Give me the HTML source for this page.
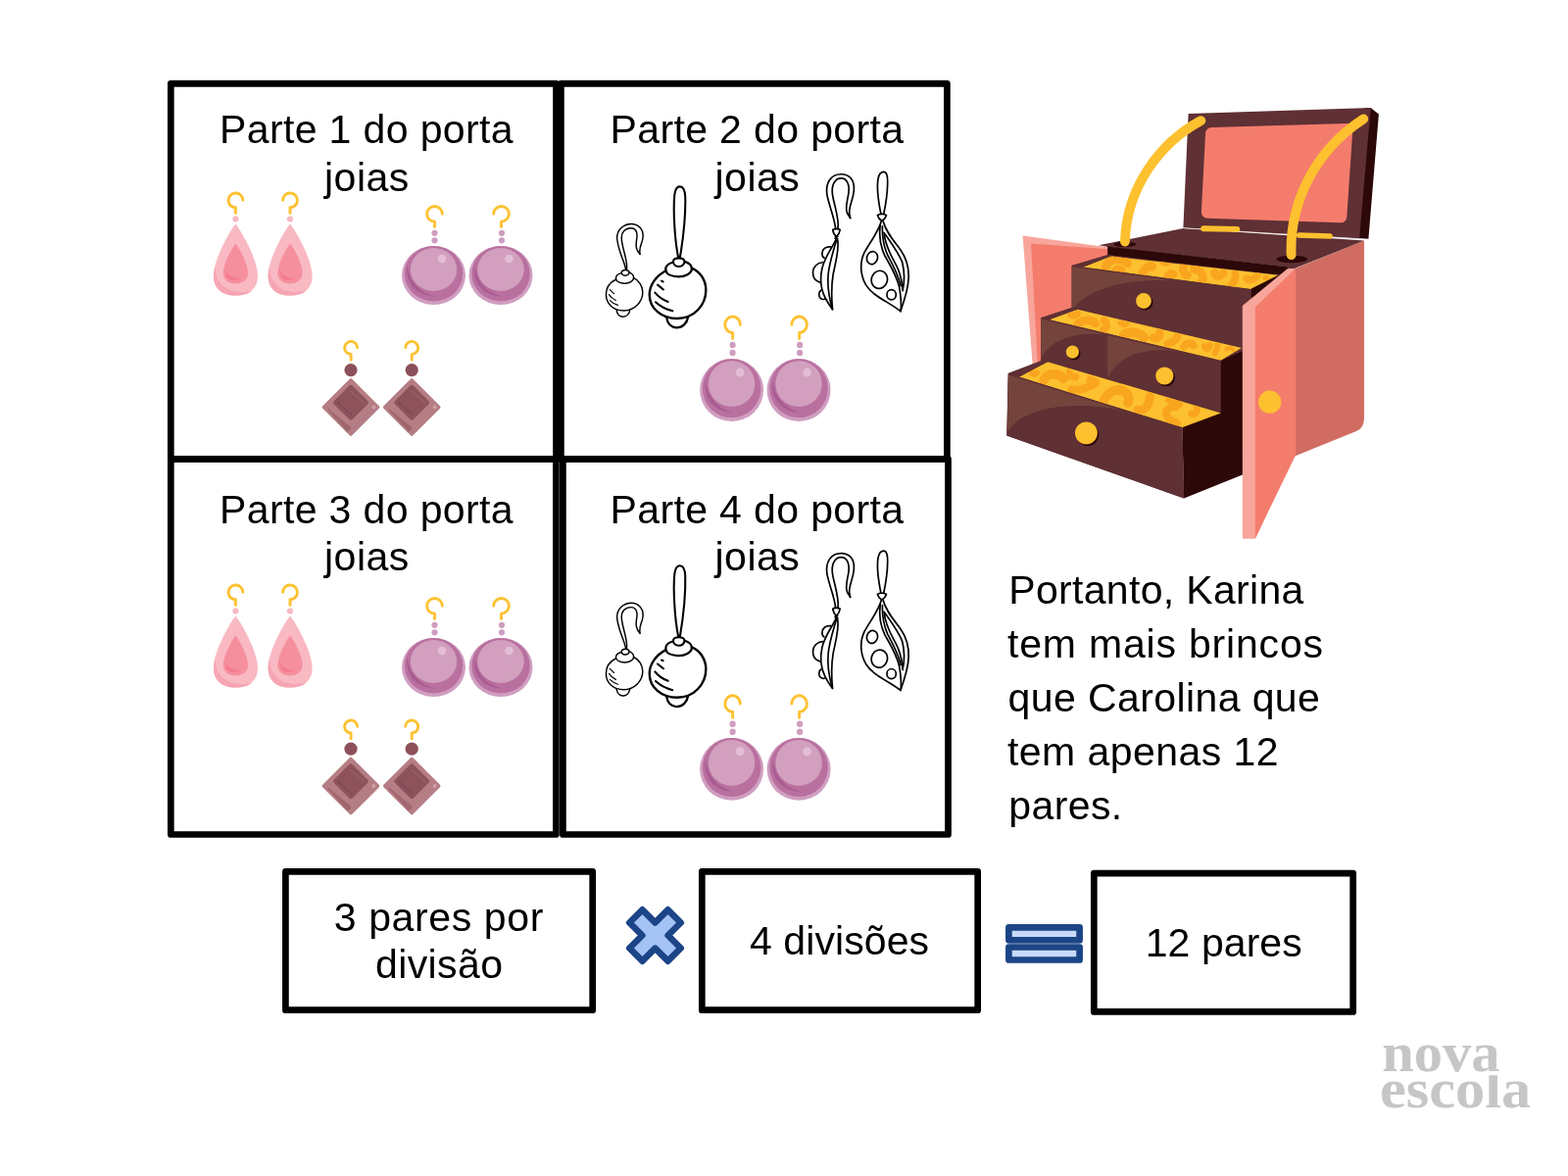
<!DOCTYPE html>
<html lang="pt-BR">
<head>
<meta charset="utf-8">
<title>Porta joias - 3 pares por divisão × 4 divisões = 12 pares</title>
<style>
html,body{margin:0;padding:0;background:#ffffff;}
body{width:1600px;height:1200px;overflow:hidden;position:relative;}
svg{display:block;position:absolute;left:0;top:0;will-change:transform;}
text{font-family:"Liberation Sans",sans-serif;fill:#000;}
text.logo{font-family:"Liberation Serif",serif;font-weight:bold;fill:#c6c6c6;}
</style>
</head>
<body>
<svg width="1600" height="1200" viewBox="0 0 1600 1200">

<!-- boxes and operators -->
<g fill="none" stroke="#000" stroke-width="6.7" stroke-linejoin="round">
<rect x="174.3" y="85.3" width="393.2" height="383"/>
<rect x="572.4" y="85.3" width="394" height="383"/>
<rect x="174.3" y="468.3" width="393.1" height="383.2"/>
<rect x="574.4" y="468.3" width="393.1" height="383.2"/>
<rect x="291.4" y="889.3" width="313.3" height="141.4"/>
<rect x="716.3" y="889.3" width="281.4" height="141.4"/>
<rect x="1116.3" y="891.2" width="264.4" height="141.2"/>
</g>
<path d="M642.3 941.5L655.5 928.3L668.5 941.3L681.5 928.3L694.7 941.5L681.7 954.5L694.7 967.5L681.5 980.7L668.5 967.7L655.5 980.7L642.3 967.5L655.3 954.5Z" fill="#a4c2f4" stroke="#1c4587" stroke-width="6.7" stroke-linejoin="round"/>
<g fill="#c9daf8" stroke="#1c4587" stroke-width="6.7" stroke-linejoin="round">
<rect x="1029.4" y="946.4" width="72.2" height="12.9"/>
<rect x="1029.4" y="966.5" width="72.2" height="13"/>
</g>

<!-- box 1 earrings -->
<g><g>
<path d="M247.8 204.2A7.4 7.4 0 1 0 240.4 211.8L240.4 217.5" fill="none" stroke="#fdc232" stroke-width="2.9" stroke-linecap="round" stroke-linejoin="round"/>
<circle cx="240.4" cy="223.5" r="3.1" fill="#f9b9c2"/>
<path d="M240.4 228.4C243.5 231.5 263 263 263 282C263 295 253 301.6 240.4 301.6C227.8 301.6 217.8 295 217.8 282C217.8 263 237.3 231.5 240.4 228.4Z" fill="#f9b9c2"/>
<path d="M219.3 272C216 286 219 301.6 240.4 301.6C248 301.6 254 299.5 257.5 296.5C240 301 221 296 219.3 272Z" fill="#f6a6b3"/>
<path d="M240.4 248.4C242.5 250.5 253 268 253 279C253 286 247 289.3 240.4 289.3C233.8 289.3 227.8 286 227.8 279C227.8 268 238.3 250.5 240.4 248.4Z" fill="#f58f9d"/>
<path d="M230.2 276.6C229.6 285.6 236 287.8 246 284.4C239 284 233 281.5 230.2 276.6Z" fill="#f57b90"/>
</g>
<g>
<path d="M288.6 204.2A7.4 7.4 0 1 1 296 211.8L296 217.5" fill="none" stroke="#fdc232" stroke-width="2.9" stroke-linecap="round" stroke-linejoin="round"/>
<circle cx="296" cy="223.5" r="3.1" fill="#f9b9c2"/>
<path d="M296 228.4C299.1 231.5 318.6 263 318.6 282C318.6 295 308.6 301.6 296 301.6C283.4 301.6 273.4 295 273.4 282C273.4 263 292.9 231.5 296 228.4Z" fill="#f9b9c2"/>
<path d="M274.9 272C271.6 286 274.6 301.6 296 301.6C303.6 301.6 309.6 299.5 313.1 296.5C295.6 301 276.6 296 274.9 272Z" fill="#f6a6b3"/>
<path d="M296 248.4C298.1 250.5 308.6 268 308.6 279C308.6 286 302.6 289.3 296 289.3C289.4 289.3 283.4 286 283.4 279C283.4 268 293.9 250.5 296 248.4Z" fill="#f58f9d"/>
<path d="M285.8 276.6C285.2 285.6 291.6 287.8 301.6 284.4C294.6 284 288.6 281.5 285.8 276.6Z" fill="#f57b90"/>
</g>
<g>
<path d="M451.3 218.2A7.8 7.8 0 1 0 443.5 226.1L443.5 231.5" fill="none" stroke="#fdc232" stroke-width="2.9" stroke-linecap="round" stroke-linejoin="round"/>
<circle cx="443.5" cy="237.8" r="3.1" fill="#cf9dc0"/>
<circle cx="443.5" cy="245.3" r="3.1" fill="#cf9dc0"/>
<ellipse cx="442.5" cy="281" rx="32.5" ry="30" fill="#d09ec1"/>
<ellipse cx="442.5" cy="279.3" rx="29.8" ry="28.2" fill="#b9709f"/>
<path d="M415.5 272C414 290 425 302 444 302.5C430 299 419 290 415.5 272Z" fill="#a85c92"/>
<ellipse cx="442.5" cy="275" rx="23.7" ry="22" fill="#d2a0be"/>
<circle cx="451" cy="264" r="4.3" fill="#e3bdd6"/>
</g>
<g>
<path d="M503.7 218.2A7.8 7.8 0 1 1 511.5 226.1L511.5 231.5" fill="none" stroke="#fdc232" stroke-width="2.9" stroke-linecap="round" stroke-linejoin="round"/>
<circle cx="512" cy="237.8" r="3.1" fill="#cf9dc0"/>
<circle cx="512" cy="245.3" r="3.1" fill="#cf9dc0"/>
<ellipse cx="511" cy="281" rx="32.5" ry="30" fill="#d09ec1"/>
<ellipse cx="511" cy="279.3" rx="29.8" ry="28.2" fill="#b9709f"/>
<path d="M484 272C482.500 290 493.500 302 512.500 302.5C498.500 299 487.500 290 484 272Z" fill="#a85c92"/>
<ellipse cx="511" cy="275" rx="23.7" ry="22" fill="#d2a0be"/>
<circle cx="519.5" cy="264" r="4.3" fill="#e3bdd6"/>
</g>
<g>
<path d="M364.6 354.6A6.5 6.5 0 1 0 358.1 361.4L358.1 367.3" fill="none" stroke="#fdc232" stroke-width="2.9" stroke-linecap="round" stroke-linejoin="round"/>
<circle cx="358" cy="377.6" r="6.6" fill="#8c505a"/>
<path d="M358 388L385.500 415.500L358 443L330.500 415.500Z" fill="#b57d84" stroke="#b57d84" stroke-width="3.600" stroke-linejoin="round"/>
<path d="M335 418L357.5 436.500L357 438.500L354.500 439.600Z" fill="#a0676f" stroke="#a0676f" stroke-width="1.5" stroke-linejoin="round"/>
<path d="M358 395L373.700 410.700L358 426.400L342.300 410.700Z" fill="#8e525b" stroke="#8e525b" stroke-width="4.400" stroke-linejoin="round"/>
<path d="M356.7 398.5L372.3 411.5" stroke="#9c626b" stroke-width="1.2" fill="none"/><path d="M344 410.4L359 423.4" stroke="#80475a" stroke-width="1.2" fill="none"/><circle cx="381.400" cy="415.500" r="2" fill="#cfa0a7"/>
</g>
<g>
<path d="M413.7 354.6A6.5 6.5 0 1 1 420.2 361.4L420.2 367.3" fill="none" stroke="#fdc232" stroke-width="2.9" stroke-linecap="round" stroke-linejoin="round"/>
<circle cx="420.200" cy="377.6" r="6.6" fill="#8c505a"/>
<path d="M420.200 388L447.700 415.500L420.200 443L392.700 415.500Z" fill="#b57d84" stroke="#b57d84" stroke-width="3.600" stroke-linejoin="round"/>
<path d="M397.200 418L419.700 436.500L419.200 438.500L416.700 439.600Z" fill="#a0676f" stroke="#a0676f" stroke-width="1.5" stroke-linejoin="round"/>
<path d="M420.200 395L435.900 410.700L420.200 426.400L404.500 410.700Z" fill="#8e525b" stroke="#8e525b" stroke-width="4.400" stroke-linejoin="round"/>
<path d="M418.9 398.5L434.5 411.5" stroke="#9c626b" stroke-width="1.2" fill="none"/><path d="M406.2 410.4L421.2 423.4" stroke="#80475a" stroke-width="1.2" fill="none"/><circle cx="443.600" cy="415.500" r="2" fill="#cfa0a7"/>
</g>
</g>
<!-- box 3 earrings -->
<g transform="translate(0 400)"><g>
<path d="M247.8 204.2A7.4 7.4 0 1 0 240.4 211.8L240.4 217.5" fill="none" stroke="#fdc232" stroke-width="2.9" stroke-linecap="round" stroke-linejoin="round"/>
<circle cx="240.4" cy="223.5" r="3.1" fill="#f9b9c2"/>
<path d="M240.4 228.4C243.5 231.5 263 263 263 282C263 295 253 301.6 240.4 301.6C227.8 301.6 217.8 295 217.8 282C217.8 263 237.3 231.5 240.4 228.4Z" fill="#f9b9c2"/>
<path d="M219.3 272C216 286 219 301.6 240.4 301.6C248 301.6 254 299.5 257.5 296.5C240 301 221 296 219.3 272Z" fill="#f6a6b3"/>
<path d="M240.4 248.4C242.5 250.5 253 268 253 279C253 286 247 289.3 240.4 289.3C233.8 289.3 227.8 286 227.8 279C227.8 268 238.3 250.5 240.4 248.4Z" fill="#f58f9d"/>
<path d="M230.2 276.6C229.6 285.6 236 287.8 246 284.4C239 284 233 281.5 230.2 276.6Z" fill="#f57b90"/>
</g>
<g>
<path d="M288.6 204.2A7.4 7.4 0 1 1 296 211.8L296 217.5" fill="none" stroke="#fdc232" stroke-width="2.9" stroke-linecap="round" stroke-linejoin="round"/>
<circle cx="296" cy="223.5" r="3.1" fill="#f9b9c2"/>
<path d="M296 228.4C299.1 231.5 318.6 263 318.6 282C318.6 295 308.6 301.6 296 301.6C283.4 301.6 273.4 295 273.4 282C273.4 263 292.9 231.5 296 228.4Z" fill="#f9b9c2"/>
<path d="M274.9 272C271.6 286 274.6 301.6 296 301.6C303.6 301.6 309.6 299.5 313.1 296.5C295.6 301 276.6 296 274.9 272Z" fill="#f6a6b3"/>
<path d="M296 248.4C298.1 250.5 308.6 268 308.6 279C308.6 286 302.6 289.3 296 289.3C289.4 289.3 283.4 286 283.4 279C283.4 268 293.9 250.5 296 248.4Z" fill="#f58f9d"/>
<path d="M285.8 276.6C285.2 285.6 291.6 287.8 301.6 284.4C294.6 284 288.6 281.5 285.8 276.6Z" fill="#f57b90"/>
</g>
<g>
<path d="M451.3 218.2A7.8 7.8 0 1 0 443.5 226.1L443.5 231.5" fill="none" stroke="#fdc232" stroke-width="2.9" stroke-linecap="round" stroke-linejoin="round"/>
<circle cx="443.5" cy="237.8" r="3.1" fill="#cf9dc0"/>
<circle cx="443.5" cy="245.3" r="3.1" fill="#cf9dc0"/>
<ellipse cx="442.5" cy="281" rx="32.5" ry="30" fill="#d09ec1"/>
<ellipse cx="442.5" cy="279.3" rx="29.8" ry="28.2" fill="#b9709f"/>
<path d="M415.5 272C414 290 425 302 444 302.5C430 299 419 290 415.5 272Z" fill="#a85c92"/>
<ellipse cx="442.5" cy="275" rx="23.7" ry="22" fill="#d2a0be"/>
<circle cx="451" cy="264" r="4.3" fill="#e3bdd6"/>
</g>
<g>
<path d="M503.7 218.2A7.8 7.8 0 1 1 511.5 226.1L511.5 231.5" fill="none" stroke="#fdc232" stroke-width="2.9" stroke-linecap="round" stroke-linejoin="round"/>
<circle cx="512" cy="237.8" r="3.1" fill="#cf9dc0"/>
<circle cx="512" cy="245.3" r="3.1" fill="#cf9dc0"/>
<ellipse cx="511" cy="281" rx="32.5" ry="30" fill="#d09ec1"/>
<ellipse cx="511" cy="279.3" rx="29.8" ry="28.2" fill="#b9709f"/>
<path d="M484 272C482.500 290 493.500 302 512.500 302.5C498.500 299 487.500 290 484 272Z" fill="#a85c92"/>
<ellipse cx="511" cy="275" rx="23.7" ry="22" fill="#d2a0be"/>
<circle cx="519.5" cy="264" r="4.3" fill="#e3bdd6"/>
</g>
</g>
<g transform="translate(0 386.6)"><g>
<path d="M364.6 354.6A6.5 6.5 0 1 0 358.1 361.4L358.1 367.3" fill="none" stroke="#fdc232" stroke-width="2.9" stroke-linecap="round" stroke-linejoin="round"/>
<circle cx="358" cy="377.6" r="6.6" fill="#8c505a"/>
<path d="M358 388L385.500 415.500L358 443L330.500 415.500Z" fill="#b57d84" stroke="#b57d84" stroke-width="3.600" stroke-linejoin="round"/>
<path d="M335 418L357.5 436.500L357 438.500L354.500 439.600Z" fill="#a0676f" stroke="#a0676f" stroke-width="1.5" stroke-linejoin="round"/>
<path d="M358 395L373.700 410.700L358 426.400L342.300 410.700Z" fill="#8e525b" stroke="#8e525b" stroke-width="4.400" stroke-linejoin="round"/>
<path d="M356.7 398.5L372.3 411.5" stroke="#9c626b" stroke-width="1.2" fill="none"/><path d="M344 410.4L359 423.4" stroke="#80475a" stroke-width="1.2" fill="none"/><circle cx="381.400" cy="415.500" r="2" fill="#cfa0a7"/>
</g>
<g>
<path d="M413.7 354.6A6.5 6.5 0 1 1 420.2 361.4L420.2 367.3" fill="none" stroke="#fdc232" stroke-width="2.9" stroke-linecap="round" stroke-linejoin="round"/>
<circle cx="420.200" cy="377.6" r="6.6" fill="#8c505a"/>
<path d="M420.200 388L447.700 415.500L420.200 443L392.700 415.500Z" fill="#b57d84" stroke="#b57d84" stroke-width="3.600" stroke-linejoin="round"/>
<path d="M397.200 418L419.700 436.500L419.200 438.500L416.700 439.600Z" fill="#a0676f" stroke="#a0676f" stroke-width="1.5" stroke-linejoin="round"/>
<path d="M420.200 395L435.900 410.700L420.200 426.400L404.500 410.700Z" fill="#8e525b" stroke="#8e525b" stroke-width="4.400" stroke-linejoin="round"/>
<path d="M418.9 398.5L434.5 411.5" stroke="#9c626b" stroke-width="1.2" fill="none"/><path d="M406.2 410.4L421.2 423.4" stroke="#80475a" stroke-width="1.2" fill="none"/><circle cx="443.600" cy="415.500" r="2" fill="#cfa0a7"/>
</g>
</g>
<!-- box 2 earrings -->
<g><g transform="translate(610 220) scale(0.0916)" fill="none" stroke="#000" stroke-width="16" stroke-linecap="round" stroke-linejoin="round">
<path d="M312 598C300 520 230 400 215 265C205 160 290 92 370 92C450 92 510 150 503 240C498 310 455 340 470 430"/>
<path d="M322 598C335 500 275 380 265 260C258 180 310 140 370 140C420 140 445 180 435 250C428 310 410 360 468 430"/>
<path d="M265 628C275 598 340 598 350 628C352 655 330 668 305 668C280 668 262 655 265 628Z"/>
<path d="M262 640C225 650 200 670 202 700C205 735 250 755 300 755C350 755 398 730 400 692C400 665 380 645 350 632"/>
<path d="M200 712C130 745 92 810 92 880C92 980 170 1058 290 1058C410 1058 500 960 500 855C500 790 460 720 400 695"/>
<path d="M210 1055C215 1100 245 1127 280 1127C320 1127 350 1095 356 1055"/>
<path stroke-width="13" d="M135 825L180 870"/>
<path stroke-width="13" d="M125 880C145 910 170 930 200 945"/>
<path stroke-width="13" d="M135 945C160 970 190 990 225 998"/>
</g>
<g transform="translate(655 180) scale(0.13333)" fill="none" stroke="#000" stroke-width="15.5" stroke-linecap="round" stroke-linejoin="round">
<path d="M278 618C250 480 238 250 250 140C256 95 275 78 290 78C310 78 330 100 332 160C335 280 315 480 292 618"/>
<path d="M240 648C245 618 320 618 326 648C328 675 305 690 282 690C258 690 238 675 240 648Z"/>
<path stroke-width="17" d="M236 658C200 668 180 690 182 715C186 750 230 767 280 767C330 767 378 745 382 708C382 685 360 662 328 652"/>
<path stroke-width="18" d="M184 722C110 760 58 830 58 905C58 1010 150 1087 270 1087C400 1087 490 985 490 870C490 800 450 730 382 702"/>
<path stroke-width="17" d="M190 1085C195 1125 225 1157 265 1157C310 1157 345 1125 352 1080"/>
<path d="M150 800L162 806"/>
<path d="M120 830L165 866"/>
<path d="M100 890C125 920 160 945 200 960"/>
<path d="M105 962C140 995 185 1018 235 1030"/>
</g>
<g transform="translate(822 170) scale(0.125)" fill="none" stroke="#000" stroke-width="13.5" stroke-linecap="round" stroke-linejoin="round">
<path d="M245 510C240 430 195 330 175 230C160 130 210 62 290 62C360 62 400 110 395 190C390 270 350 330 358 385L365 420"/>
<path d="M265 510C275 420 235 320 220 230C208 150 240 95 290 95C335 95 360 140 352 210C345 270 320 330 340 380L365 420"/>
<path d="M222 515C240 505 265 505 282 515C278 540 265 560 252 572C238 560 225 540 222 515Z"/>
<path d="M240 585L262 572M243 572L262 590"/>
<path d="M250 590C220 660 160 730 135 830C115 920 130 1010 160 1070C180 1110 205 1145 220 1165"/>
<path d="M262 600C275 680 245 780 225 880C212 960 212 1080 220 1165"/>
<path d="M252 600C230 680 195 780 185 880C178 960 190 1060 215 1150"/>
<path d="M205 655C165 650 135 675 135 710C135 730 142 740 152 745"/>
<path d="M140 782C95 785 60 820 60 865C60 905 85 935 118 945"/>
<path d="M125 1010C105 1025 105 1060 122 1075C135 1085 148 1085 155 1082"/>
</g>
<g transform="translate(872 170) scale(0.12673)" fill="none" stroke="#000" stroke-width="13.5" stroke-linecap="round" stroke-linejoin="round">
<path d="M212 380C190 270 180 150 190 95C198 55 220 42 235 42C255 42 268 70 266 130C265 210 252 300 235 380"/>
<path d="M185 392C200 378 240 378 256 392C250 412 235 428 220 437C205 428 190 412 185 392Z"/>
<path d="M215 440C195 520 130 600 80 690C40 770 45 870 90 950C150 1050 280 1090 370 1165"/>
<path d="M230 440C255 530 310 590 370 670C420 740 438 830 435 900C432 990 400 1080 370 1165"/>
<path d="M207 470C195 560 205 640 245 720C290 800 340 880 360 970C372 1040 378 1110 372 1160"/>
<path d="M224 480C222 580 238 650 266 712C305 785 350 865 372 960"/>
<path d="M237 532C292 610 352 690 384 770C402 840 402 930 387 1000C384 930 372 880 350 825C315 745 250 665 237 532Z"/>
<ellipse cx="142" cy="735" rx="43" ry="52" transform="rotate(15 142 735)"/>
<ellipse cx="200" cy="910" rx="64" ry="72" transform="rotate(15 200 910)"/>
<ellipse cx="297" cy="1032" rx="37" ry="40"/>
</g>
<g transform="translate(714.10 321.40) scale(1 1.0647) translate(-410 -209)"><g>
<path d="M451.3 218.2A7.8 7.8 0 1 0 443.5 226.1L443.5 231.5" fill="none" stroke="#fdc232" stroke-width="2.9" stroke-linecap="round" stroke-linejoin="round"/>
<circle cx="443.5" cy="237.8" r="3.1" fill="#cf9dc0"/>
<circle cx="443.5" cy="245.3" r="3.1" fill="#cf9dc0"/>
<ellipse cx="442.5" cy="281" rx="32.5" ry="30" fill="#d09ec1"/>
<ellipse cx="442.5" cy="279.3" rx="29.8" ry="28.2" fill="#b9709f"/>
<path d="M415.5 272C414 290 425 302 444 302.5C430 299 419 290 415.5 272Z" fill="#a85c92"/>
<ellipse cx="442.5" cy="275" rx="23.7" ry="22" fill="#d2a0be"/>
<circle cx="451" cy="264" r="4.3" fill="#e3bdd6"/>
</g>
<g>
<path d="M503.7 218.2A7.8 7.8 0 1 1 511.5 226.1L511.5 231.5" fill="none" stroke="#fdc232" stroke-width="2.9" stroke-linecap="round" stroke-linejoin="round"/>
<circle cx="512" cy="237.8" r="3.1" fill="#cf9dc0"/>
<circle cx="512" cy="245.3" r="3.1" fill="#cf9dc0"/>
<ellipse cx="511" cy="281" rx="32.5" ry="30" fill="#d09ec1"/>
<ellipse cx="511" cy="279.3" rx="29.8" ry="28.2" fill="#b9709f"/>
<path d="M484 272C482.500 290 493.500 302 512.500 302.5C498.500 299 487.500 290 484 272Z" fill="#a85c92"/>
<ellipse cx="511" cy="275" rx="23.7" ry="22" fill="#d2a0be"/>
<circle cx="519.5" cy="264" r="4.3" fill="#e3bdd6"/>
</g>
</g></g>
<!-- box 4 earrings -->
<g transform="translate(0 386.8)"><g transform="translate(610 220) scale(0.0916)" fill="none" stroke="#000" stroke-width="16" stroke-linecap="round" stroke-linejoin="round">
<path d="M312 598C300 520 230 400 215 265C205 160 290 92 370 92C450 92 510 150 503 240C498 310 455 340 470 430"/>
<path d="M322 598C335 500 275 380 265 260C258 180 310 140 370 140C420 140 445 180 435 250C428 310 410 360 468 430"/>
<path d="M265 628C275 598 340 598 350 628C352 655 330 668 305 668C280 668 262 655 265 628Z"/>
<path d="M262 640C225 650 200 670 202 700C205 735 250 755 300 755C350 755 398 730 400 692C400 665 380 645 350 632"/>
<path d="M200 712C130 745 92 810 92 880C92 980 170 1058 290 1058C410 1058 500 960 500 855C500 790 460 720 400 695"/>
<path d="M210 1055C215 1100 245 1127 280 1127C320 1127 350 1095 356 1055"/>
<path stroke-width="13" d="M135 825L180 870"/>
<path stroke-width="13" d="M125 880C145 910 170 930 200 945"/>
<path stroke-width="13" d="M135 945C160 970 190 990 225 998"/>
</g>
<g transform="translate(655 180) scale(0.13333)" fill="none" stroke="#000" stroke-width="15.5" stroke-linecap="round" stroke-linejoin="round">
<path d="M278 618C250 480 238 250 250 140C256 95 275 78 290 78C310 78 330 100 332 160C335 280 315 480 292 618"/>
<path d="M240 648C245 618 320 618 326 648C328 675 305 690 282 690C258 690 238 675 240 648Z"/>
<path stroke-width="17" d="M236 658C200 668 180 690 182 715C186 750 230 767 280 767C330 767 378 745 382 708C382 685 360 662 328 652"/>
<path stroke-width="18" d="M184 722C110 760 58 830 58 905C58 1010 150 1087 270 1087C400 1087 490 985 490 870C490 800 450 730 382 702"/>
<path stroke-width="17" d="M190 1085C195 1125 225 1157 265 1157C310 1157 345 1125 352 1080"/>
<path d="M150 800L162 806"/>
<path d="M120 830L165 866"/>
<path d="M100 890C125 920 160 945 200 960"/>
<path d="M105 962C140 995 185 1018 235 1030"/>
</g>
<g transform="translate(822 170) scale(0.125)" fill="none" stroke="#000" stroke-width="13.5" stroke-linecap="round" stroke-linejoin="round">
<path d="M245 510C240 430 195 330 175 230C160 130 210 62 290 62C360 62 400 110 395 190C390 270 350 330 358 385L365 420"/>
<path d="M265 510C275 420 235 320 220 230C208 150 240 95 290 95C335 95 360 140 352 210C345 270 320 330 340 380L365 420"/>
<path d="M222 515C240 505 265 505 282 515C278 540 265 560 252 572C238 560 225 540 222 515Z"/>
<path d="M240 585L262 572M243 572L262 590"/>
<path d="M250 590C220 660 160 730 135 830C115 920 130 1010 160 1070C180 1110 205 1145 220 1165"/>
<path d="M262 600C275 680 245 780 225 880C212 960 212 1080 220 1165"/>
<path d="M252 600C230 680 195 780 185 880C178 960 190 1060 215 1150"/>
<path d="M205 655C165 650 135 675 135 710C135 730 142 740 152 745"/>
<path d="M140 782C95 785 60 820 60 865C60 905 85 935 118 945"/>
<path d="M125 1010C105 1025 105 1060 122 1075C135 1085 148 1085 155 1082"/>
</g>
<g transform="translate(872 170) scale(0.12673)" fill="none" stroke="#000" stroke-width="13.5" stroke-linecap="round" stroke-linejoin="round">
<path d="M212 380C190 270 180 150 190 95C198 55 220 42 235 42C255 42 268 70 266 130C265 210 252 300 235 380"/>
<path d="M185 392C200 378 240 378 256 392C250 412 235 428 220 437C205 428 190 412 185 392Z"/>
<path d="M215 440C195 520 130 600 80 690C40 770 45 870 90 950C150 1050 280 1090 370 1165"/>
<path d="M230 440C255 530 310 590 370 670C420 740 438 830 435 900C432 990 400 1080 370 1165"/>
<path d="M207 470C195 560 205 640 245 720C290 800 340 880 360 970C372 1040 378 1110 372 1160"/>
<path d="M224 480C222 580 238 650 266 712C305 785 350 865 372 960"/>
<path d="M237 532C292 610 352 690 384 770C402 840 402 930 387 1000C384 930 372 880 350 825C315 745 250 665 237 532Z"/>
<ellipse cx="142" cy="735" rx="43" ry="52" transform="rotate(15 142 735)"/>
<ellipse cx="200" cy="910" rx="64" ry="72" transform="rotate(15 200 910)"/>
<ellipse cx="297" cy="1032" rx="37" ry="40"/>
</g>
<g transform="translate(714.10 321.40) scale(1 1.0647) translate(-410 -209)"><g>
<path d="M451.3 218.2A7.8 7.8 0 1 0 443.5 226.1L443.5 231.5" fill="none" stroke="#fdc232" stroke-width="2.9" stroke-linecap="round" stroke-linejoin="round"/>
<circle cx="443.5" cy="237.8" r="3.1" fill="#cf9dc0"/>
<circle cx="443.5" cy="245.3" r="3.1" fill="#cf9dc0"/>
<ellipse cx="442.5" cy="281" rx="32.5" ry="30" fill="#d09ec1"/>
<ellipse cx="442.5" cy="279.3" rx="29.8" ry="28.2" fill="#b9709f"/>
<path d="M415.5 272C414 290 425 302 444 302.5C430 299 419 290 415.5 272Z" fill="#a85c92"/>
<ellipse cx="442.5" cy="275" rx="23.7" ry="22" fill="#d2a0be"/>
<circle cx="451" cy="264" r="4.3" fill="#e3bdd6"/>
</g>
<g>
<path d="M503.7 218.2A7.8 7.8 0 1 1 511.5 226.1L511.5 231.5" fill="none" stroke="#fdc232" stroke-width="2.9" stroke-linecap="round" stroke-linejoin="round"/>
<circle cx="512" cy="237.8" r="3.1" fill="#cf9dc0"/>
<circle cx="512" cy="245.3" r="3.1" fill="#cf9dc0"/>
<ellipse cx="511" cy="281" rx="32.5" ry="30" fill="#d09ec1"/>
<ellipse cx="511" cy="279.3" rx="29.8" ry="28.2" fill="#b9709f"/>
<path d="M484 272C482.500 290 493.500 302 512.500 302.5C498.500 299 487.500 290 484 272Z" fill="#a85c92"/>
<ellipse cx="511" cy="275" rx="23.7" ry="22" fill="#d2a0be"/>
<circle cx="519.5" cy="264" r="4.3" fill="#e3bdd6"/>
</g>
</g></g>
<!-- jewelry box -->
<g>
<path d="M 1043.6 240.5 L 1132.0 252.6 L 1132.0 321.0 L 1072.5 377.0 L 1054.0 377.0Z" fill="#f8a69b"/>
<path d="M 1052.0 248.4 L 1132.0 254.2 L 1132.0 321.0 L 1072.5 377.0 L 1059.2 377.0Z" fill="#f47c6d"/>
<path d="M 1392.0 110.2 L 1398.7 110.0 L 1406.9 116.6 L 1396.4 243.8 L 1381.5 242.8Z" fill="#2c0808"/>
<path d="M 1212.6 116.1 L 1398.7 110.0 L 1387.1 243.5 L 1207.4 232.5Z" fill="#5f3034"/>
<path d="M 1236.2 136.1 L 1374.2 132.2 L 1368.2 221.1 L 1232.0 216.6Z" fill="#f47c6d" stroke="#f47c6d" stroke-width="12.25" stroke-linejoin="round"/>
<path d="M1318 275.4L1392 245.6L1392 426Q1392 437.2 1384 440L1318 466.7Z" fill="#d16c62"/>
<path d="M 1207.4 233.0 L 1392.0 245.6 L 1322.0 273.6 L 1130.7 252.1 L 1121.1 250.3Z" fill="#5f3034"/>
<path d="M 1130.2 251.5 L 1322.0 273.2 L 1305.4 285.5 L 1130.2 265.9Z" fill="#2c0808"/>
<path d="M 1207.4 232.7 L 1387.1 243.7" fill="none" stroke="#f1e4e2" stroke-width="0.70"/>
<ellipse cx="1147.9" cy="249.3" rx="11.5" ry="2.6" fill="#2c0808"/>
<ellipse cx="1318.2" cy="264.5" rx="15.7" ry="3.8" fill="#2c0808"/>
<path d="M 1093.7 271.0 L 1130.6 260.0 L 1307.0 280.8 L 1307.0 370.0 L 1093.7 321.0Z" fill="#5f3034"/>
<path d="M 1103.3 272.4 L 1130.2 261.1 L 1307.0 281.1 L 1277.2 295.1Z" fill="#fdc02f"/>
<clipPath id="yc1"><path d="M 1103.3 272.4 L 1130.2 261.1 L 1307.0 281.1 L 1277.2 295.1Z"/></clipPath>
<g clip-path="url(#yc1)" fill="none" stroke="#f9a51f" stroke-width="5.78" stroke-linecap="round" stroke-linejoin="round">
<path d="M 1128.2 272.7 C 1130.2 264.2 1143.3 261.6 1150.5 268.8" stroke-width="8.75"/>
<path d="M 1137.4 276.0 C 1139.4 272.7 1143.3 273.4 1145.3 276.0" stroke-width="6.79"/>
<path d="M 1166.3 278.0 C 1168.2 274.0 1172.2 270.8 1175.5 272.1" stroke-width="9.06"/>
<path d="M 1186.6 268.1 L 1190.8 268.9" stroke-width="6.04"/>
<path d="M 1191.9 281.0 C 1193.5 278.6 1195.8 278.0 1197.8 279.9" stroke-width="7.55"/>
<path d="M 1207.9 271.4 C 1206.0 277.3 1208.9 281.9 1211.8 280.6" stroke-width="8.30"/>
<path d="M 1218.1 274.7 C 1226.0 276.0 1229.3 281.2 1226.3 287.2" stroke-width="8.30"/>
<path d="M 1239.1 278.4 C 1240.4 282.8 1244.4 282.8 1248.3 278.6" stroke-width="8.30"/>
<path d="M 1260.4 279.7 C 1261.7 283.9 1259.1 287.8 1256.5 290.7" stroke-width="7.55"/>
<path d="M 1272.2 284.1 C 1274.6 287.0 1279.8 285.4 1282.7 281.2" stroke-width="7.55"/>
<path d="M 1291.0 283.2 L 1292.9 284.1" stroke-width="5.28"/>
</g>
<path d="M 1093.7 271.0 L 1130.6 260.0 L 1135.0 261.0 L 1104.5 272.9Z" fill="#5f3034"/>
<path d="M 1093.7 271.0 L 1277.2 295.6 L 1277.2 370.0 L 1093.7 321.0Z" fill="#5f3034"/>
<path d="M 1093.7 272.2 L 1205.5 287.2 C 1160.0 282.5 1111.0 291.2 1093.7 316.6Z" fill="#74443c"/>
<circle cx="1168.5" cy="308.7" r="7.9" fill="#2c0808"/>
<circle cx="1167.0" cy="307.0" r="7.9" fill="#fdc02f"/>
<path d="M 1276.9 294.4 L 1307.9 278.9 L 1307.9 332.7 L 1276.9 332.7Z" fill="#2c0808"/>
<path d="M 1062.3 324.3 L 1094.4 313.8 L 1266.8 354.8 L 1266.8 448.8 L 1062.3 387.5Z" fill="#5f3034"/>
<path d="M 1069.7 325.9 L 1099.6 315.8 L 1266.8 355.1 L 1245.8 367.7Z" fill="#fdc02f"/>
<clipPath id="yc2"><path d="M 1069.7 325.9 L 1099.6 315.8 L 1266.8 355.1 L 1245.8 367.7Z"/></clipPath>
<g clip-path="url(#yc2)" fill="none" stroke="#f9a51f" stroke-width="5.78" stroke-linecap="round" stroke-linejoin="round">
<path d="M 1092.6 321.2 C 1095.2 323.4 1097.8 322.6 1099.4 319.8" stroke-width="6.79"/>
<path d="M 1099.4 331.3 C 1103.1 325.8 1113.6 325.8 1117.8 329.9" stroke-width="8.75"/>
<path d="M 1126.7 327.1 C 1130.9 331.0 1129.6 334.9 1125.6 336.5" stroke-width="7.55"/>
<path d="M 1143.8 329.7 C 1145.1 331.8 1147.7 331.8 1149.3 330.3" stroke-width="6.04"/>
<path d="M 1146.6 341.8 C 1151.6 337.6 1162.1 338.9 1167.6 344.4" stroke-width="9.36"/>
<path d="M 1176.6 344.4 C 1180.5 347.0 1184.7 344.4 1183.4 339.1" stroke-width="7.85"/>
<path d="M 1191.3 350.9 C 1196.2 349.6 1201.5 347.0 1201.8 341.8" stroke-width="7.55"/>
<path d="M 1208.1 353.6 C 1210.7 349.4 1215.9 349.4 1217.5 352.3" stroke-width="7.85"/>
<path d="M 1229.1 353.3 C 1230.4 357.5 1233.3 356.2 1234.6 352.3" stroke-width="6.34"/>
<path d="M 1239.8 360.1 C 1241.1 357.2 1242.5 354.6 1242.5 352.3" stroke-width="6.34"/>
<path d="M 1251.4 356.2 C 1254.0 354.6 1256.6 355.4 1258.2 356.7" stroke-width="4.53"/>
</g>
<path d="M 1062.3 324.3 L 1094.4 313.8 L 1099.6 315.6 L 1070.4 326.6Z" fill="#5f3034"/>
<path d="M 1062.3 324.3 L 1245.8 368.2 L 1245.8 448.8 L 1062.3 387.5Z" fill="#5f3034"/>
<path d="M 1062.3 325.6 L 1130.6 342.0 C 1104.0 337.6 1072.5 343.8 1062.3 365.6Z" fill="#74443c"/>
<path d="M 1130.2 342.0 L 1214.2 362.1 C 1177.5 350.8 1142.5 359.5 1130.2 385.8Z" fill="#74443c"/>
<circle cx="1095.9" cy="360.9" r="6.6" fill="#2c0808"/>
<circle cx="1094.4" cy="359.1" r="6.6" fill="#fdc02f"/>
<circle cx="1189.8" cy="385.2" r="9.1" fill="#2c0808"/>
<circle cx="1188.3" cy="383.5" r="9.1" fill="#fdc02f"/>
<path d="M 1245.8 368.0 L 1270.2 357.0 L 1270.2 483.4 L 1208.1 508.4 L 1206.4 436.6 L 1245.8 421.4Z" fill="#2c0808"/>
<path d="M 1028.8 381.1 L 1062.9 368.0 L 1245.8 421.1 L 1206.4 436.6 L 1208.1 508.4 L 1027.3 444.5Z" fill="#5f3034"/>
<path d="M 1038.9 384.6 L 1069.0 369.2 L 1245.8 421.4 L 1206.4 436.1Z" fill="#fdc02f"/>
<clipPath id="yc3"><path d="M 1038.9 384.6 L 1069.0 369.2 L 1245.8 421.4 L 1206.4 436.1Z"/></clipPath>
<g clip-path="url(#yc3)" fill="none" stroke="#f9a51f" stroke-width="6.05" stroke-linecap="round" stroke-linejoin="round">
<path d="M 1052.7 380.6 C 1054.1 382.3 1056.1 382.3 1057.8 380.6" stroke-width="6.32"/>
<path d="M 1065.1 387.8 C 1068.5 380.6 1079.5 379.2 1085.3 386.4" stroke-width="9.49"/>
<path d="M 1091.9 383.6 L 1097.7 385.0" stroke-width="7.12"/>
<path d="M 1090.5 379.2 L 1092.2 380.6" stroke-width="5.53"/>
<path d="M 1093.5 397.4 C 1101.5 398.8 1109.8 396.0 1118.3 390.5 L 1112.8 387.5" stroke-width="8.22"/>
<path d="M 1126.5 408.4 C 1131.8 398.5 1142.8 394.4 1149.9 401.5 C 1152.4 405.4 1152.4 408.4 1151.0 411.1" stroke-width="9.49"/>
<path d="M 1160.9 418.0 C 1167.5 419.4 1173.0 415.3 1173.3 404.3" stroke-width="8.70"/>
<path d="M 1192.5 408.4 L 1203.5 412.5" stroke-width="6.64"/>
<path d="M 1189.8 422.1 C 1189.8 417.8 1193.6 415.3 1199.4 415.3" stroke-width="7.59"/>
<path d="M 1191.2 424.9 C 1193.6 429.0 1197.8 430.4 1200.8 431.8" stroke-width="7.91"/>
<path d="M 1215.9 422.1 C 1218.7 423.5 1221.4 420.8 1221.4 416.6" stroke-width="7.12"/>
</g>
<path d="M 1028.8 381.1 L 1062.9 368.0 L 1069.3 369.0 L 1039.6 385.0Z" fill="#5f3034"/>
<path d="M 1028.8 381.1 L 1206.4 436.6 L 1208.1 508.4 L 1027.3 444.5Z" fill="#5f3034"/>
<path d="M 1028.8 382.4 L 1142.5 418.1 C 1104.0 410.4 1048.0 411.2 1028.2 440.1Z" fill="#74443c"/>
<circle cx="1109.9" cy="443.6" r="11.4" fill="#2c0808"/>
<circle cx="1108.4" cy="441.9" r="11.4" fill="#fdc02f"/>
<path d="M 1267.8 312.0 L 1314.3 273.8 L 1320.8 273.8 L 1320.8 463.9 L 1280.8 549.7 L 1267.8 549.7Z" fill="#f8a69b"/>
<path d="M 1280.8 313.3 L 1322.3 273.8 L 1322.3 463.9 L 1280.8 549.7Z" fill="#f47c6d"/>
<circle cx="1295.7" cy="410.2" r="11.6" fill="#fdc02f"/>
<path d="M 1228.2 233.3 L 1262.2 233.9" fill="none" stroke="#fdc02f" stroke-width="5.95" stroke-linecap="round"/>
<path d="M 1325.8 240.0 L 1357.0 241.0" fill="none" stroke="#fdc02f" stroke-width="5.60" stroke-linecap="round"/>
<path d="M 1147.9 246.6 C 1149.6 191.0 1183.8 145.5 1225.4 123.1" fill="none" stroke="#fdc02f" stroke-width="9.80" stroke-linecap="round"/>
<path d="M 1317.6 260.1 C 1315.9 212.0 1337.8 156.0 1391.3 121.3" fill="none" stroke="#fdc02f" stroke-width="9.80" stroke-linecap="round"/>
</g>

<!-- text -->
<text x="224.0" y="146.4" font-size="41.0" letter-spacing="0.37">Parte 1 do porta</text>
<text x="331.0" y="194.5" font-size="41.0" letter-spacing="0.5">joias</text>
<text x="622.5" y="146.4" font-size="41.0" letter-spacing="0.37">Parte 2 do porta</text>
<text x="729.5" y="194.5" font-size="41.0" letter-spacing="0.5">joias</text>
<text x="224.0" y="533.5" font-size="41.0" letter-spacing="0.37">Parte 3 do porta</text>
<text x="331.0" y="581.6" font-size="41.0" letter-spacing="0.5">joias</text>
<text x="622.5" y="533.5" font-size="41.0" letter-spacing="0.37">Parte 4 do porta</text>
<text x="729.5" y="581.6" font-size="41.0" letter-spacing="0.5">joias</text>
<text x="1029.25" y="615.6" font-size="41.0" letter-spacing="0.32">Portanto, Karina</text>
<text x="1028.0" y="670.5" font-size="41.0" letter-spacing="0.81">tem mais brincos</text>
<text x="1028.6" y="725.5" font-size="41.0" letter-spacing="0.4">que Carolina que</text>
<text x="1028.0" y="780.5" font-size="41.0" letter-spacing="0.44">tem apenas 12</text>
<text x="1029.25" y="835.5" font-size="41.0" letter-spacing="0.4">pares.</text>
<text x="340.75" y="949.9" font-size="41.0" letter-spacing="0.62">3 pares por</text>
<text x="383.0" y="998" font-size="41.0" letter-spacing="0.4">divisão</text>
<text x="765.0" y="973.9" font-size="41.0" letter-spacing="0.08">4 divisões</text>
<text x="1168.7" y="976" font-size="41.0" letter-spacing="0.07">12 pares</text>
<text class="logo" transform="translate(1410.2 1093) scale(1.026 1)" x="0" y="0" font-size="57">nova</text>
<clipPath id="lclip"><rect x="1400" y="1097.3" width="180" height="50"/></clipPath>
<g clip-path="url(#lclip)"><text class="logo" transform="translate(1408 1130.2) scale(1.059 1)" x="0" y="0" font-size="57">escola</text></g>

</svg>
</body>
</html>
